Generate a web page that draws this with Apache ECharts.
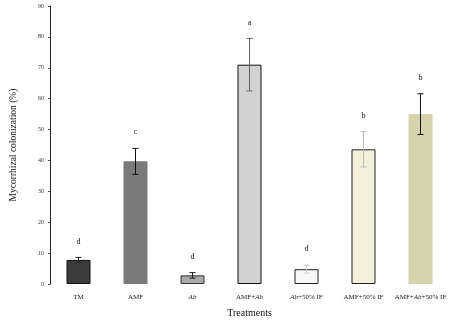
<!DOCTYPE html>
<html><head><meta charset="utf-8">
<script src="https://cdn.jsdelivr.net/npm/echarts@6/dist/echarts.min.js"></script>
<style>html,body{margin:0;padding:0;background:#fff}#c{width:458px;height:328px}</style>
</head><body><div id="c"></div>
<script>
var categories = ['TM', 'AMF', 'Ab', 'AMF+Ab', 'Ab+50% IF', 'AMF+50% IF', 'AMF+Ab+50% IF'];
var catLabels = ['TM', 'AMF', '{i|Ab}', 'AMF+{i|Ab}', '{i|Ab}+50% IF', 'AMF+50% IF', 'AMF+{i|Ab}+50% IF'];
var means = [7.8, 39.7, 2.8, 71.0, 4.8, 43.6, 55.0];
var errors = [0.8, 4.2, 0.9, 8.5, 1.3, 5.7, 6.6];
var letters = ['d', 'c', 'd', 'a', 'd', 'b', 'b'];
var yTicks = [0, 10, 20, 30, 40, 50, 60, 70, 80, 90];

var fills = ['#3b3b3b', '#7a7a7a', '#a9a9a9', '#d2d2d2', '#f7f7f7', '#f3f0dc', '#d8d3ac'];
var borders = ['#111', null, '#333', '#111', '#222', '#222', null];
var errColors = ['#222', '#111', '#222', '#666', '#ccc', '#bbb', '#111'];
var FONT = '"Liberation Serif", "Times New Roman", serif';

var chart = echarts.init(document.getElementById('c'));
chart.setOption({
  animation: false,
  grid: {left: 46, right: 9, top: 6, bottom: 44},
  xAxis: {
    type: 'category', data: categories,
    axisLine: {show: false}, axisTick: {show: false},
    name: 'Treatments', nameLocation: 'middle', nameGap: 24,
    nameTextStyle: {fontFamily: FONT, fontSize: 10, color: '#111'},
    axisLabel: {
      margin: 10, fontFamily: FONT, fontSize: 7, color: '#222', interval: 0,
      formatter: function (v, i) { return catLabels[i]; },
      rich: {i: {fontStyle: 'italic', fontFamily: FONT, fontSize: 7, color: '#222'}}
    }
  },
  yAxis: {
    type: 'value', min: yTicks[0], max: yTicks[yTicks.length - 1], interval: 10,
    axisLine: {show: true, lineStyle: {color: '#222', width: 1}},
    axisTick: {show: true, inside: false, length: 2, lineStyle: {color: '#444'}},
    splitLine: {show: false},
    axisLabel: {fontFamily: FONT, fontSize: 6, color: '#333', margin: 6},
    name: 'Mycorrhizal colonization (%)', nameLocation: 'middle', nameGap: 32,
    nameTextStyle: {fontFamily: FONT, fontSize: 9.5, color: '#111'}
  },
  series: [{
    type: 'bar', barWidth: 24,
    data: means.map(function (v, i) {
      return {value: v, itemStyle: {color: fills[i], borderColor: borders[i] || fills[i], borderWidth: borders[i] ? 1 : 0}};
    })
  }, {
    type: 'custom',
    data: means.map(function (v, i) { return [i, v, errors[i]]; }),
    renderItem: function (params, api) {
      var i = api.value(0), m = api.value(1), e = api.value(2);
      var top = api.coord([i, m + e]);
      var bot = api.coord([i, m - e]);
      var x = top[0], w = 3, c = errColors[i];
      return {type: 'group', children: [
        {type: 'line', shape: {x1: x, y1: top[1], x2: x, y2: bot[1]}, style: {stroke: c, lineWidth: 1}},
        {type: 'line', shape: {x1: x - w, y1: top[1], x2: x + w, y2: top[1]}, style: {stroke: c, lineWidth: 1}},
        {type: 'line', shape: {x1: x - w, y1: bot[1], x2: x + w, y2: bot[1]}, style: {stroke: c, lineWidth: 1}},
        {type: 'text', x: x, y: top[1] - 12, style: {text: letters[i], fill: '#111', font: '8px ' + FONT, textAlign: 'center', textVerticalAlign: 'bottom'}}
      ]};
    },
    z: 5
  }]
});
</script></body></html>
